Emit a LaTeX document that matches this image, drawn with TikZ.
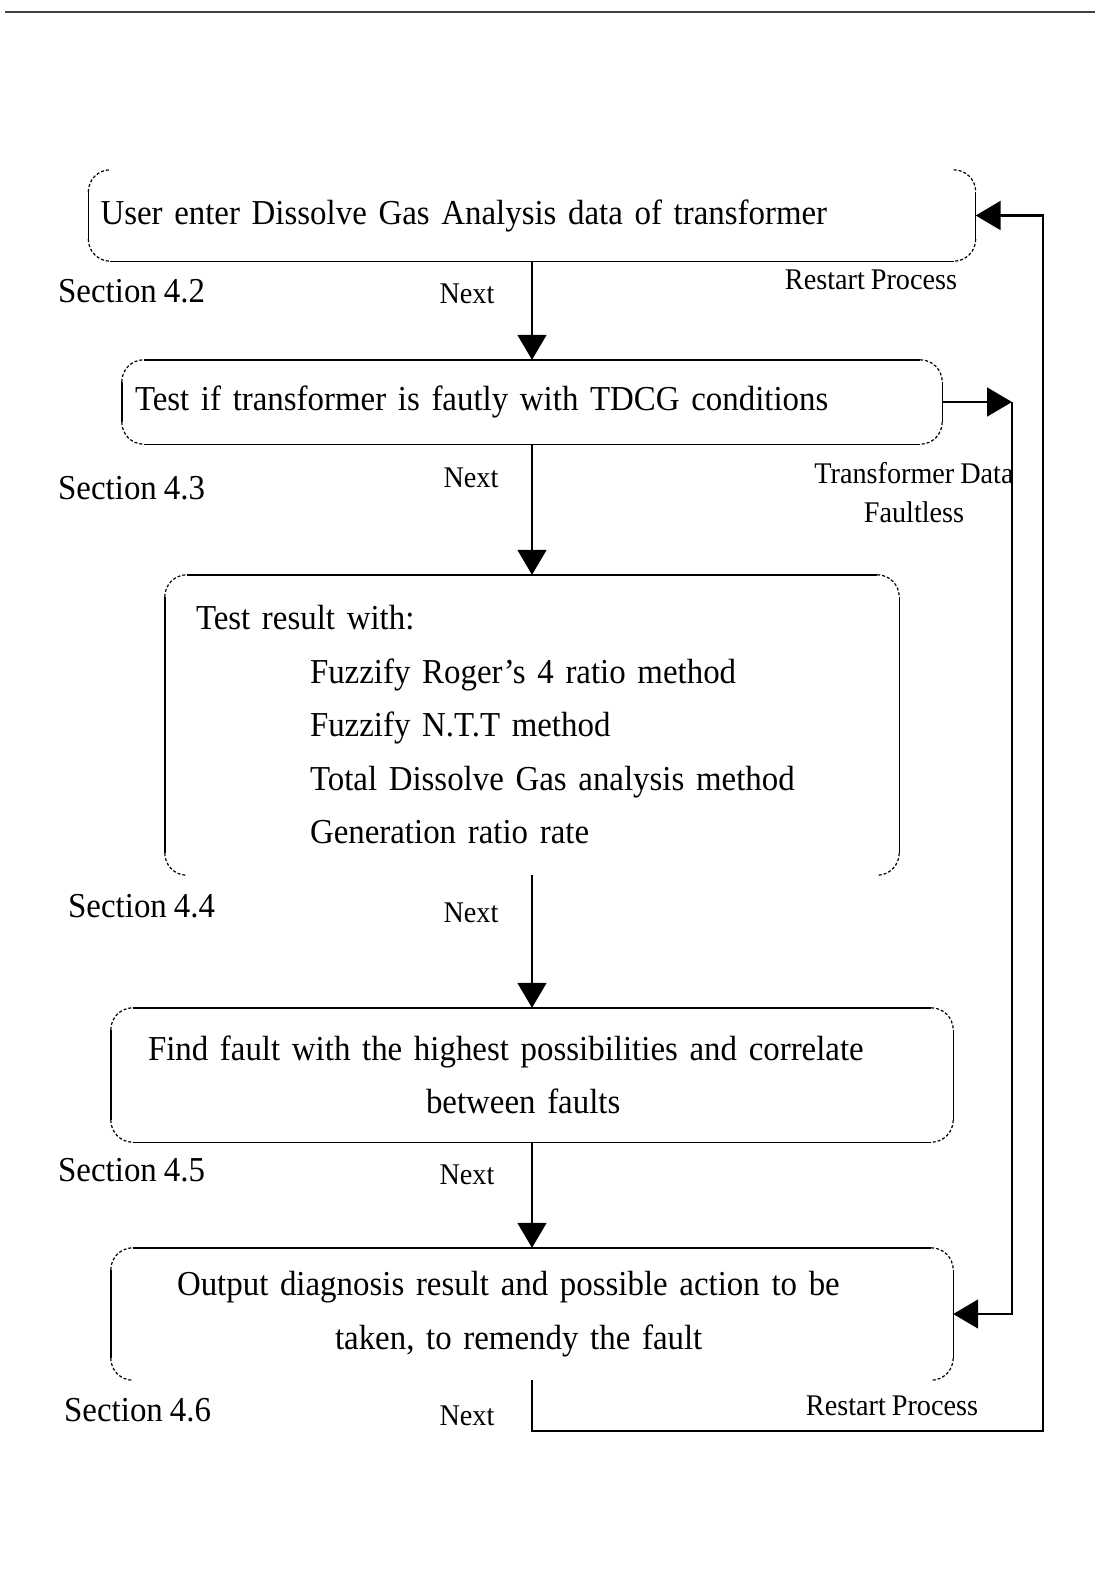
\documentclass[tikz,border=0pt]{standalone}
\usepackage{fontspec}
\setmainfont{Liberation Serif}[FakeStretch=0.94, WordSpace=0.85]
\usetikzlibrary{arrows.meta, positioning}

\newcommand{\mainsize}{\fontsize{35}{53.5}\selectfont}
\newcommand{\smallsize}{\fontsize{30}{39}\selectfont}
\newcommand{\crad}{22pt}

% frame of a step: straight sides, dotted round corners
\newcommand{\boxsides}[1]{%
  \draw[edge] ([yshift=-\crad]#1.north west) -- ([yshift=\crad]#1.south west);
  \draw[edge] ([yshift=-\crad]#1.north east) -- ([yshift=\crad]#1.south east);
  \draw[corner] ([yshift=-\crad]#1.north west) arc[start angle=180, end angle=90, radius=\crad];
  \draw[corner] ([xshift=-\crad]#1.north east) arc[start angle=90, end angle=0, radius=\crad];
  \draw[corner] ([yshift=\crad]#1.south west) arc[start angle=180, end angle=270, radius=\crad];
  \draw[corner] ([yshift=\crad]#1.south east) arc[start angle=0, end angle=-90, radius=\crad];
}
\newcommand{\boxtop}[1]{\draw[edge] ([xshift=\crad]#1.north west) -- ([xshift=-\crad]#1.north east);}
\newcommand{\boxbottom}[1]{\draw[edge] ([xshift=\crad]#1.south west) -- ([xshift=-\crad]#1.south east);}

\begin{document}
\begin{tikzpicture}[x=1pt, y=1pt]

\tikzset{
  stepbox/.style={rectangle, inner ysep=0pt, font=\mainsize, align=left},
  edge/.style={line width=1.4pt},
  corner/.style={line width=1.2pt, dash pattern=on 3pt off 2pt},
  section/.style={anchor=west, inner sep=0pt, font=\mainsize},
  lbl/.style={inner sep=0pt, font=\smallsize, align=center},
  flow/.style={line width=1.8pt, -{Triangle[length=25pt, width=29pt]}},
  back/.style={line width=2.3pt, -{Triangle[length=25pt, width=29pt]}}
}

\useasboundingbox (0,0) rectangle (1095,-1591);

% --- Linie oben ---
\coordinate (r1) at (5,-12);
\coordinate (r2) at (1095,-12);
\draw[line width=2.5pt, black!75] (r1) -- (r2);

% --- Schritte ---
\node[stepbox, minimum width=887pt, minimum height=91pt, inner xsep=12pt, text width=863pt] (b1) at (532,-215.5)
  {User enter Dissolve Gas Analysis data of transformer};
\node[stepbox, minimum width=820pt, minimum height=84pt, inner xsep=13pt, text width=794pt] (b2) at (532,-402)
  {Test if transformer is fautly with TDCG conditions};
\node[stepbox, minimum width=734pt, minimum height=300pt, inner xsep=31pt, text width=672pt] (b3) at (532,-725)
  {Test result with:\\
   \hspace*{114pt}Fuzzify Roger's 4 ratio method\\
   \hspace*{114pt}Fuzzify N.T.T method\\
   \hspace*{114pt}Total Dissolve Gas analysis method\\
   \hspace*{114pt}Generation ratio rate};
\node[stepbox, minimum width=842pt, minimum height=134pt, inner xsep=37pt, text width=768pt] (b4) at (532,-1075)
  {Find fault with the highest possibilities and correlate\\
   \hspace*{278pt}between faults};
\node[stepbox, minimum width=842pt, minimum height=132pt, inner xsep=66pt, text width=710pt] (b5) at (532,-1314)
  {Output diagnosis result and possible action to be\\
   \hspace*{158pt}taken, to remendy the fault};

% --- Rahmen ---
\boxsides{b1} \boxbottom{b1}
\boxsides{b2} \boxtop{b2} \boxbottom{b2}
\boxsides{b3} \boxtop{b3}
\boxsides{b4} \boxtop{b4} \boxbottom{b4}
\boxsides{b5} \boxtop{b5}

% --- Kanten ---
\draw[flow] (b1) -- (b2);
\draw[flow] (b2) -- (b3);
\draw[flow] (b3) -- (b4);
\draw[flow] (b4) -- (b5);

\coordinate (cF) at (1012,-402);
\draw[flow] (b2.east) -- (cF);
\draw[flow] (cF) |- (b5.east);

\coordinate (cB) at (1043,-1431);
\draw[back] (b5.south) |- (cB) |- (b1.east);

% --- Beschriftungen ---
\node[section] (s2) at (58,-291) {Section 4.2};
\node[section] (s3) at (58,-488) {Section 4.3};
\node[section] (s4) at (68,-906) {Section 4.4};
\node[section] (s5) at (58,-1170) {Section 4.5};
\node[section] (s6) at (64,-1410) {Section 4.6};

\node[lbl] (n2) at (467,-294) {Next};
\node[lbl] (n3) at (471,-478) {Next};
\node[lbl] (n4) at (471,-913) {Next};
\node[lbl] (n5) at (467,-1175) {Next};
\node[lbl] (n6) at (467,-1416) {Next};

\node[lbl] (rp1) at (871,-280) {Restart Process};
\node[lbl] (rp2) at (892,-1406) {Restart Process};
\node[lbl] (ok) at (914,-493) {Transformer Data\\ Faultless};

\end{tikzpicture}
\end{document}
